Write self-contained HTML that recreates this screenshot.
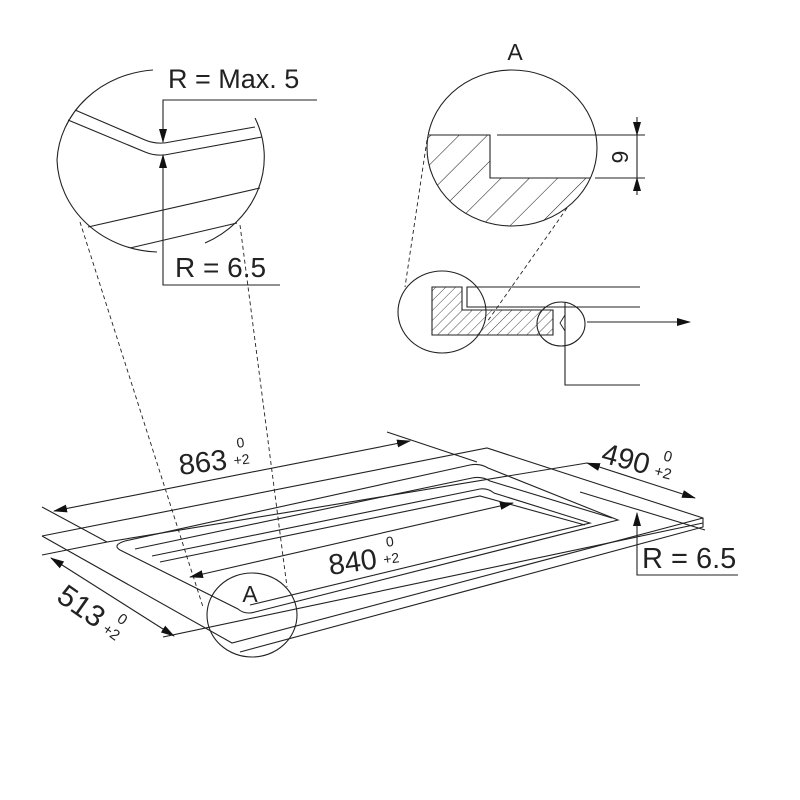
<!DOCTYPE html>
<html><head><style>html,body{margin:0;padding:0;background:#fff}svg{display:block}text{font-family:"Liberation Sans",sans-serif;fill:#222}</style></head>
<body>
<svg width="800" height="800" viewBox="0 0 800 800" xmlns="http://www.w3.org/2000/svg">
<defs>
<marker id="ar" markerWidth="14" markerHeight="8" refX="13" refY="4" orient="auto" markerUnits="userSpaceOnUse"><path d="M0,0 L14,4 L0,8 z" fill="#111"/></marker>
<marker id="as" markerWidth="14" markerHeight="8" refX="1" refY="4" orient="auto" markerUnits="userSpaceOnUse"><path d="M14,0 L0,4 L14,8 z" fill="#111"/></marker>
<pattern id="h1" width="20" height="20" patternUnits="userSpaceOnUse" patternTransform="rotate(45)"><line x1="0" y1="0" x2="0" y2="20" stroke="#222" stroke-width="1.1"/></pattern>
<pattern id="h2" width="7" height="7" patternUnits="userSpaceOnUse" patternTransform="rotate(45)"><line x1="0" y1="0" x2="0" y2="7" stroke="#333" stroke-width="0.9"/></pattern>
<clipPath id="cA"><ellipse cx="512" cy="148" rx="85" ry="78"/></clipPath>
</defs>
<g fill="none" stroke="#222" stroke-width="1.1">
<path d="M57,160 A104,95 0 0 1 153,70"/>
<path d="M255,118 A104,95 0 0 1 205,243"/>
<path d="M57,160 A104,95 0 0 0 157,252"/>
<path d="M75,110 L145,140 Q157,145 170,142 L255,127"/>
<path d="M68,120 L145,152 Q157,157 170,154 L262,137"/>
<path d="M88,227 L260,188"/>
<path d="M130,248 L237,223"/>
<path d="M317,100 L163,100 L163,142" marker-end="url(#ar)"/>
<path d="M280,285 L163,285 L163,155" marker-end="url(#ar)"/>
<g stroke-dasharray="4,3" stroke-width="0.9">
<path d="M80,222 L203,607"/><path d="M240,225 L287,587"/>
<path d="M427,140 L405,287"/><path d="M567,208 L487,322"/>
</g>
<ellipse cx="512" cy="148" rx="85" ry="78"/>
<g clip-path="url(#cA)">
<path d="M420,135 L490,135 L490,178 L610,178 L610,240 L420,240 z" fill="url(#h1)" stroke="none"/>
</g>
<path d="M429,135 L490,135 L490,178 L590,178"/>
<path d="M497,135 L645,135"/>
<path d="M595,178 L645,178"/>
<path d="M637,117 L637,135" marker-end="url(#ar)"/>
<path d="M637,195 L637,178" marker-end="url(#ar)"/>
<path d="M637,135 L637,178"/>
<ellipse cx="442" cy="312" rx="44" ry="41"/>
<path d="M432,287 L462,287 L462,310 L553,310 L553,335 L432,335 z" fill="url(#h2)"/>
<path d="M640,287 L467,287 L467,307 L640,307"/>
<ellipse cx="561" cy="324" rx="24" ry="22"/>
<path d="M565,315 L565,331 L560,323 z" stroke-width="0.9"/>
<path d="M587,322 L690,322" marker-end="url(#ar)"/>
<path d="M565,302 L565,385 L640,385"/>
<path d="M54,511 L410,441" marker-start="url(#as)" marker-end="url(#ar)"/>
<path d="M42,507 L107,542 L42,555"/>
<path d="M107,542 L587,463"/>
<path d="M387,432 L477,462"/>
<path d="M42,536 L487,448 L703,518 L703,527 L240,652"/>
<path d="M42,536 L232,643 L703,518"/>
<path d="M51,558 L174,636" marker-start="url(#as)" marker-end="url(#ar)"/>
<path d="M163,637 L703,523"/>
<path d="M587,463 L695,498" marker-start="url(#as)" marker-end="url(#ar)"/>
<path d="M580,492 L705,530"/>
<path d="M125,541 L470,465 Q480,463 488,468 L618,520 L255,612 Q245,615 238,609 L120,550 Q112,545 125,541 z"/>
<path d="M135,549 L472,478 Q482,476 490,481 L612,518"/>
<path d="M152,556 L480,489 Q488,488 494,493 L590,523 L250,605"/>
<path d="M160,562 L480,496 L585,525"/>
<path d="M190,577 L513,503" marker-start="url(#as)" marker-end="url(#ar)"/>
<ellipse cx="252" cy="615" rx="45" ry="42"/>
<path d="M738,575 L637,575 L637,513" marker-end="url(#ar)"/>
</g>
<text x="168" y="88" font-size="27">R = Max. 5</text>
<text x="175" y="277" font-size="28">R = 6.5</text>
<text x="515" y="60" font-size="23" text-anchor="middle">A</text>
<text x="0" y="0" font-size="23" transform="translate(612,157) rotate(90)" text-anchor="middle">6</text>
<text x="642" y="568" font-size="29">R = 6.5</text>
<text x="250" y="602" font-size="23" text-anchor="middle">A</text>
<g transform="translate(180,475) rotate(-7)"><text font-size="29">863</text><text x="60" y="-20" font-size="14">0</text><text x="55" y="-3" font-size="14">+2</text></g>
<g transform="translate(330,575) rotate(-8)"><text font-size="29">840</text><text x="60" y="-20" font-size="14">0</text><text x="55" y="-3" font-size="14">+2</text></g>
<g transform="translate(600,462) rotate(15)"><text font-size="29">490</text><text x="60" y="-18" font-size="15">0</text><text x="55" y="-1" font-size="15">+2</text></g>
<g transform="translate(55,600) rotate(35)"><text font-size="30">513</text><text x="62" y="-18" font-size="15">0</text><text x="56" y="-1" font-size="15">+2</text></g>
</svg>
</body></html>
